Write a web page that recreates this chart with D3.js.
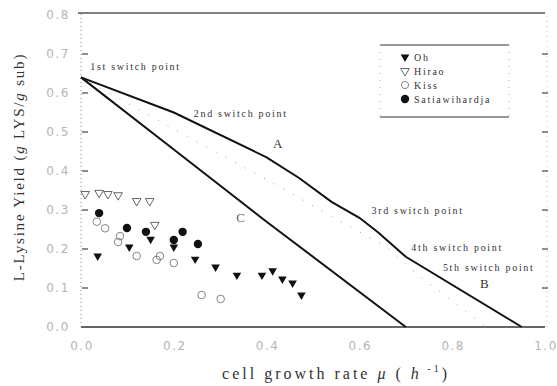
<!DOCTYPE html>
<html>
<head>
<meta charset="utf-8">
<script src="https://cdn.jsdelivr.net/npm/d3@7"></script>
<style>
  body { margin: 0; background: #fff; }
  svg { display: block; }
  .lbl { font-family: "Liberation Serif", serif; font-size: 10px; letter-spacing: 1.7px; fill: #333; }
  .tick { font-family: "DejaVu Sans", sans-serif; font-size: 12px; letter-spacing: 1.5px; fill: #b5b5b5; }
</style>
</head>
<body>
<div id="root"></div>
<script>
// x ticks / y ticks
const xTicks = [0, 0.2, 0.4, 0.6, 0.8, 1.0];
const yTicks = [0, 0.1, 0.2, 0.3, 0.4, 0.5, 0.6, 0.7, 0.8];

// model curves [mu, yield]
const lineA = [[0, 0.64], [0.2, 0.55], [0.4, 0.435], [0.47, 0.382], [0.54, 0.321], [0.6, 0.28], [0.64, 0.243], [0.7, 0.18], [0.95, 0]];
const lineC = [[0, 0.64], [0.2, 0.455], [0.4, 0.27], [0.7, 0]];
const lineDot = [[0, 0.64], [0.174, 0.525], [0.389, 0.385], [0.486, 0.32], [0.606, 0.24], [0.658, 0.205], [0.73, 0.13], [0.825, 0.044], [0.874, 0]];

// experimental data
const oh = [[0.036, 0.182], [0.104, 0.205], [0.15, 0.225], [0.2, 0.205], [0.246, 0.174], [0.29, 0.154],
            [0.336, 0.133], [0.39, 0.133], [0.413, 0.144], [0.434, 0.123], [0.456, 0.113], [0.475, 0.082]];
const hirao = [[0.009, 0.341], [0.039, 0.344], [0.058, 0.341], [0.08, 0.338], [0.12, 0.323], [0.148, 0.323], [0.159, 0.262]];
const kiss = [[0.034, 0.27], [0.052, 0.253], [0.08, 0.218], [0.084, 0.233], [0.12, 0.182], [0.163, 0.172],
              [0.17, 0.182], [0.2, 0.164], [0.26, 0.082], [0.301, 0.072]];
const satia = [[0.039, 0.292], [0.099, 0.254], [0.14, 0.244], [0.2, 0.223], [0.219, 0.244], [0.252, 0.213]];

const labels = [
  { t: "1st switch point", x: 0.02, y: 0.66 },
  { t: "2nd switch point", x: 0.243, y: 0.538 },
  { t: "3rd switch point", x: 0.626, y: 0.29 },
  { t: "4th switch point", x: 0.712, y: 0.195 },
  { t: "5th switch point", x: 0.78, y: 0.143 }
];

const width = 557, height = 386;

const x = d3.scaleLinear().domain([0, 1]).range([81, 545]);
const y = d3.scaleLinear().domain([0, 0.8]).range([327, 15]);

const svg = d3.select("#root").append("svg")
    .attr("width", width)
    .attr("height", height);

// frame
svg.append("line").attr("x1", 78).attr("x2", 545).attr("y1", 13).attr("y2", 13)
    .attr("stroke", "#555").attr("stroke-width", 1.3);
svg.append("line").attr("x1", 81).attr("x2", 545).attr("y1", y(0)).attr("y2", y(0))
    .attr("stroke", "#333").attr("stroke-width", 1.6);
svg.append("line").attr("x1", 81).attr("x2", 81).attr("y1", y(0)).attr("y2", 13)
    .attr("stroke", "#888").attr("stroke-width", 1).attr("stroke-dasharray", "1,3");
svg.append("line").attr("x1", 547).attr("x2", 547).attr("y1", y(0)).attr("y2", 13)
    .attr("stroke", "#bbb").attr("stroke-width", 1).attr("stroke-dasharray", "1,4");

// inner ticks
const inner = yTicks.filter(d => d > 0 && d < 0.8);
svg.selectAll(".ltick").data(inner).enter().append("line")
    .attr("x1", 82).attr("x2", 88)
    .attr("y1", d => y(d)).attr("y2", d => y(d))
    .attr("stroke", "#444").attr("stroke-width", 1.2);
svg.selectAll(".rtick").data(inner).enter().append("line")
    .attr("x1", 542).attr("x2", 548)
    .attr("y1", d => y(d)).attr("y2", d => y(d))
    .attr("stroke", "#444").attr("stroke-width", 1.2);

// tick labels
svg.selectAll(".ylab").data(yTicks).enter().append("text")
    .attr("class", "tick")
    .attr("x", 58).attr("y", d => y(d) + 4)
    .attr("text-anchor", "middle")
    .text(d => d.toFixed(1));
svg.selectAll(".xlab").data(xTicks).enter().append("text")
    .attr("class", "tick")
    .attr("x", d => x(d) + 1).attr("y", 350)
    .attr("text-anchor", "middle")
    .text(d => d.toFixed(1));

// curves
const line = d3.line().x(d => x(d[0])).y(d => y(d[1]));
svg.append("path").datum(lineDot).attr("d", line)
    .attr("fill", "none").attr("stroke", "#999").attr("stroke-width", 1)
    .attr("stroke-dasharray", "1,10");
svg.append("path").datum(lineA).attr("d", line)
    .attr("fill", "none").attr("stroke", "#111").attr("stroke-width", 2);
svg.append("path").datum(lineC).attr("d", line)
    .attr("fill", "none").attr("stroke", "#111").attr("stroke-width", 2);

// markers
const tri = d3.symbol().type(d3.symbolTriangle).size(32);
function addTri(data, filled) {
  svg.selectAll(null).data(data).enter().append("path")
      .attr("d", tri)
      .attr("transform", d => "translate(" + x(d[0]) + "," + y(d[1]) + ") rotate(180)")
      .attr("fill", filled ? "#111" : "none")
      .attr("stroke", filled ? "none" : "#555")
      .attr("stroke-width", 0.9);
}
addTri(oh, true);
addTri(hirao, false);

svg.selectAll(null).data(kiss).enter().append("circle")
    .attr("cx", d => x(d[0])).attr("cy", d => y(d[1])).attr("r", 3.8)
    .attr("fill", "none").attr("stroke", "#777").attr("stroke-width", 0.9);
svg.selectAll(null).data(satia).enter().append("circle")
    .attr("cx", d => x(d[0])).attr("cy", d => y(d[1])).attr("r", 4.2)
    .attr("fill", "#111");

// annotations
svg.selectAll(".ann").data(labels).enter().append("text")
    .attr("class", "lbl")
    .attr("x", d => x(d.x)).attr("y", d => y(d.y))
    .text(d => d.t);
svg.append("text").attr("class", "lbl").attr("x", x(0.426)).attr("y", y(0.46))
    .attr("text-anchor", "middle").style("font-size", "13px").text("A");
svg.append("text").attr("class", "lbl").attr("x", x(0.346)).attr("y", y(0.27))
    .attr("text-anchor", "middle").style("font-size", "13px").style("fill", "#666").text("C");
svg.append("text").attr("class", "lbl").attr("x", x(0.871)).attr("y", y(0.1))
    .attr("text-anchor", "middle").style("font-size", "13px").text("B");

// legend
const legend = svg.append("g");
legend.append("line").attr("x1", 380).attr("x2", 509).attr("y1", 45).attr("y2", 45)
    .attr("stroke", "#333").attr("stroke-width", 1.2);
legend.append("line").attr("x1", 380).attr("x2", 509).attr("y1", 117).attr("y2", 117)
    .attr("stroke", "#333").attr("stroke-width", 1.2);
legend.append("line").attr("x1", 380).attr("x2", 380).attr("y1", 45).attr("y2", 117)
    .attr("stroke", "#aaa").attr("stroke-dasharray", "1,6");
legend.append("line").attr("x1", 509).attr("x2", 509).attr("y1", 45).attr("y2", 117)
    .attr("stroke", "#aaa").attr("stroke-dasharray", "1,6");
const names = ["Oh", "Hirao", "Kiss", "Satiawihardja"];
names.forEach((n, i) => {
  const ly = 57 + i * 14;
  if (i < 2) {
    legend.append("path").attr("d", tri)
        .attr("transform", "translate(405," + ly + ") rotate(180)")
        .attr("fill", i === 0 ? "#111" : "none")
        .attr("stroke", i === 0 ? "none" : "#555").attr("stroke-width", 0.9);
  } else {
    legend.append("circle").attr("cx", 405).attr("cy", ly).attr("r", i === 3 ? 4.2 : 3.6)
        .attr("fill", i === 3 ? "#111" : "none")
        .attr("stroke", i === 3 ? "none" : "#777").attr("stroke-width", 0.9);
  }
  legend.append("text").attr("class", "lbl").attr("x", 414).attr("y", ly + 3.5).text(n);
});

// axis titles
const xt = svg.append("text").attr("class", "lbl")
    .attr("x", 336).attr("y", 379).attr("text-anchor", "middle")
    .style("font-size", "16px").style("letter-spacing", "3px");
xt.append("tspan").text("cell growth rate ");
xt.append("tspan").style("font-style", "italic").text("μ");
xt.append("tspan").text(" ( ");
xt.append("tspan").style("font-style", "italic").text("h");
xt.append("tspan").attr("dy", -7).style("font-size", "10px").text(" -1");
xt.append("tspan").attr("dy", 7).text(")");

const yt = svg.append("text").attr("class", "lbl")
    .attr("transform", "translate(24,167) rotate(-90)")
    .attr("text-anchor", "middle")
    .style("font-size", "15px").style("letter-spacing", "1.8px");
yt.append("tspan").text("L-Lysine Yield (");
yt.append("tspan").style("font-style", "italic").text("g");
yt.append("tspan").text(" LYS/");
yt.append("tspan").style("font-style", "italic").text("g");
yt.append("tspan").text(" sub)");
</script>
</body>
</html>
